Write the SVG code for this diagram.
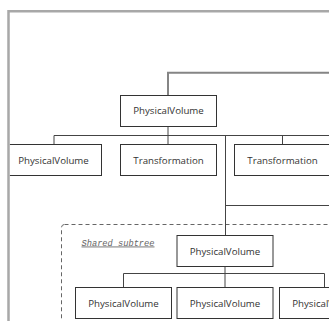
<svg xmlns="http://www.w3.org/2000/svg" width="329" height="321" viewBox="0 0 329 321">
  <style>
    .box { fill: #ffffff; stroke: #333333; stroke-width: 1; }
    .lbl { font-family: "Open Sans", "Liberation Sans", sans-serif; font-size: 9.7px; fill: #333333; text-anchor: middle; }
    .wire { fill: none; stroke: #444444; stroke-width: 1; }
    .wire-up { fill: none; stroke: #858585; stroke-width: 2; }
    .group-outline { fill: none; stroke: #666666; stroke-width: 1; stroke-dasharray: 4 3; }
    .group-title { font-family: "Liberation Mono", "DejaVu Sans Mono", monospace; font-style: italic; font-size: 8.7px; fill: #666666; text-decoration: underline; }
  </style>
  <defs>
    <clipPath id="viewport">
      <rect x="9.75" y="12.5" width="330" height="320"/>
    </clipPath>
  </defs>
  <rect x="0" y="0" width="329" height="321" fill="#ffffff"/>

  <g clip-path="url(#viewport)">
    <!-- shared subtree region -->
    <g id="shared-subtree">
      <rect class="group-outline" x="61.5" y="224.5" width="400" height="200" rx="3"/>
      <text class="group-title" x="81.5" y="245.5">Shared subtree</text>
    </g>

    <!-- connectors -->
    <g id="connectors">
      <path class="wire-up" d="M168,95.5 V72.7 H340"/>
      <path class="wire" d="M168,126.5 V144.5 M54,144.5 V135.5 H340 M282.5,135.5 V144.5"/>
      <path class="wire" d="M225.5,135.5 V235.5 M225.5,205.5 H340"/>
      <path class="wire" d="M225,266.5 V287.5 M123.5,287.5 V273.5 H324.5 V287.5"/>
    </g>

    <!-- nodes -->
    <g id="pv-root">
      <rect class="box" x="120.5" y="95.5" width="96" height="31"/>
      <text class="lbl" x="168.5" y="114.3">PhysicalVolume</text>
    </g>
    <g id="pv-child">
      <rect class="box" x="5.5" y="144.5" width="96" height="31"/>
      <text class="lbl" x="53.5" y="163.8">PhysicalVolume</text>
    </g>
    <g id="transform-a">
      <rect class="box" x="120.5" y="144.5" width="96" height="31"/>
      <text class="lbl" x="168.5" y="163.8">Transformation</text>
    </g>
    <g id="transform-b">
      <rect class="box" x="234.5" y="144.5" width="96" height="31"/>
      <text class="lbl" x="282.5" y="163.8">Transformation</text>
    </g>
    <g id="pv-shared">
      <rect class="box" x="177" y="235.5" width="96" height="31"/>
      <text class="lbl" x="225" y="254.8">PhysicalVolume</text>
    </g>
    <g id="pv-leaf-1">
      <rect class="box" x="75.5" y="287.5" width="96" height="31"/>
      <text class="lbl" x="123.5" y="306.8">PhysicalVolume</text>
    </g>
    <g id="pv-leaf-2">
      <rect class="box" x="177" y="287.5" width="96" height="31"/>
      <text class="lbl" x="225" y="306.8">PhysicalVolume</text>
    </g>
    <g id="pv-leaf-3">
      <rect class="box" x="279.5" y="287.5" width="96" height="31"/>
      <text class="lbl" x="327.5" y="306.8">PhysicalVolume</text>
    </g>
  </g>

  <!-- viewport frame -->
  <path id="frame" d="M8.5,340 V11.3 H340" fill="none" stroke="#a8a8a8" stroke-width="2.5"/>
</svg>
